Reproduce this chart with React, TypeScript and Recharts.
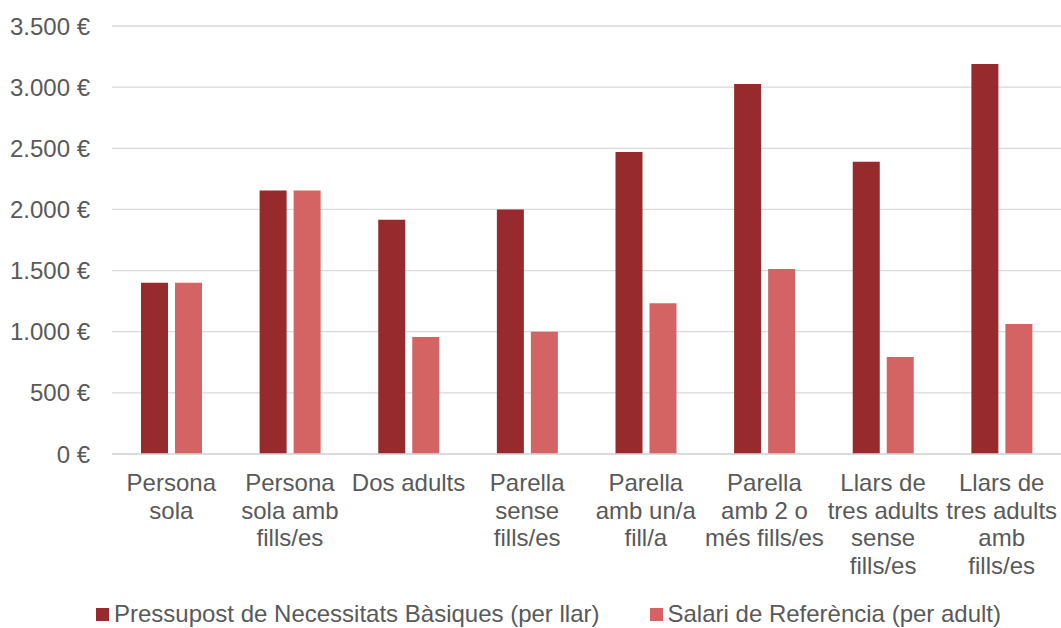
import React from "react";
import { BarChart, Bar, XAxis, YAxis, CartesianGrid, Legend } from "recharts";

const categories = [
  "Persona sola",
  "Persona sola amb fills/es",
  "Dos adults",
  "Parella sense fills/es",
  "Parella amb un/a fill/a",
  "Parella amb 2 o més fills/es",
  "Llars de tres adults sense fills/es",
  "Llars de tres adults amb fills/es",
];
const categoryLines = [
  ["Persona", "sola"],
  ["Persona", "sola amb", "fills/es"],
  ["Dos adults"],
  ["Parella", "sense", "fills/es"],
  ["Parella", "amb un/a", "fill/a"],
  ["Parella", "amb 2 o", "més fills/es"],
  ["Llars de", "tres adults", "sense", "fills/es"],
  ["Llars de", "tres adults", "amb", "fills/es"],
];
const pressupost = [1400, 2155, 1915, 2000, 2470, 3025, 2390, 3190];
const salari = [1400, 2155, 957, 1000, 1233, 1513, 793, 1063];
const seriesNames = [
  "Pressupost de Necessitats Bàsiques (per llar)",
  "Salari de Referència (per adult)",
];
const yTicks = [0, 500, 1000, 1500, 2000, 2500, 3000, 3500];

const COLORS = ["#962A2C", "#D46464"];
const FONT = "'Liberation Sans', Arial, sans-serif";
const TEXT = "#595959";
const FS = 24;

const data = categories.map((c, i) => ({
  name: c,
  pressupost: pressupost[i],
  salari: salari[i],
}));

const fmt = (v: number) =>
  v.toString().replace(/\B(?=(\d{3})+(?!\d))/g, ".") + " €";

const XTick = (props: any) => {
  const { x, y, payload } = props;
  const i = categories.indexOf(payload.value);
  const lines = categoryLines[i] || [payload.value];
  return (
    <text x={x} y={y} textAnchor="middle" fill={TEXT} fontSize={FS} fontFamily={FONT}>
      {lines.map((l, k) => (
        <tspan key={k} x={x} dy={k === 0 ? 29 : 27.6}>
          {l}
        </tspan>
      ))}
    </text>
  );
};

const LegendContent = () => (
  <div style={{ display: "flex", justifyContent: "center", fontFamily: FONT, fontSize: FS, color: TEXT, height: 28, alignItems: "center", paddingLeft: 36 }}>
    {seriesNames.map((n, i) => (
      <div key={n} style={{ display: "flex", alignItems: "center", marginRight: i === 0 ? 50 : 0 }}>
        <span style={{ display: "inline-block", width: 13, height: 13, background: COLORS[i], marginRight: 5 }} />
        <span>{n}</span>
      </div>
    ))}
  </div>
);

export default function App() {
  return (
    <div style={{ position: "absolute", left: 0, top: 0, width: 1061, height: 628, background: "#fff" }}>
      <BarChart
        width={1061}
        height={628}
        data={data}
        margin={{ top: 26, right: 0, bottom: 0, left: 0 }}
        barGap={7}
        barSize={27}
      >
        <CartesianGrid vertical={false} stroke="#D9D9D9" strokeWidth={1.3} />
        <XAxis
          dataKey="name"
          interval={0}
          height={146}
          tickLine={false}
          axisLine={{ stroke: "#D9D9D9", strokeWidth: 1.3 }}
          tick={<XTick />}
        />
        <YAxis
          width={112}
          domain={[0, 3500]}
          ticks={yTicks}
          tickFormatter={fmt}
          axisLine={false}
          tickLine={false}
          tickSize={0}
          tickMargin={22}
          tick={{ fill: TEXT, fontSize: FS, fontFamily: FONT }}
        />
        <Legend verticalAlign="bottom" content={<LegendContent />} />
        <Bar dataKey="pressupost" name={seriesNames[0]} fill={COLORS[0]} isAnimationActive={false} />
        <Bar dataKey="salari" name={seriesNames[1]} fill={COLORS[1]} isAnimationActive={false} />
      </BarChart>
    </div>
  );
}
